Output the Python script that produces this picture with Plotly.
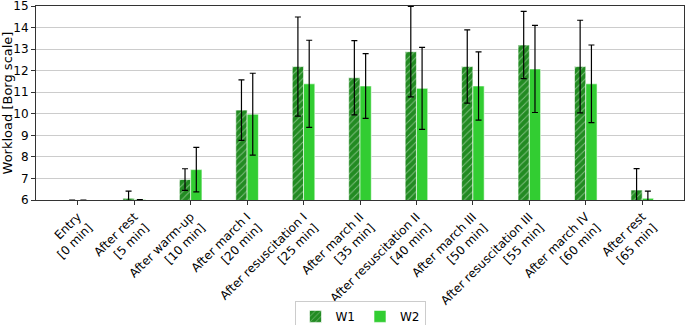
import plotly.graph_objects as go

categories = ["Entry<br>[0 min]", "After rest<br>[5 min]", "After warm-up<br>[10 min]",
              "After march I<br>[20 min]", "After resuscitation I<br>[25 min]",
              "After march II<br>[35 min]", "After resuscitation II<br>[40 min]",
              "After march III<br>[50 min]", "After resuscitation III<br>[55 min]",
              "After march IV<br>[60 min]", "After rest<br>[65 min]"]
w1_mean = [6.0, 6.08, 6.95, 10.17, 12.19, 11.67, 12.88, 12.19, 13.19, 12.19, 6.46]
w1_sd = [0.0, 0.33, 0.5, 1.4, 2.3, 1.72, 2.1, 1.7, 1.56, 2.15, 1.0]
w2_mean = [6.0, 6.02, 7.41, 9.98, 11.39, 11.29, 11.18, 11.29, 12.08, 11.39, 6.08]
w2_sd = [0.0, 0.0, 1.03, 1.9, 2.02, 1.5, 1.9, 1.58, 2.02, 1.8, 0.33]

x = list(range(len(categories)))
bw = 0.2

fig = go.Figure()
fig.add_trace(go.Bar(
    x=[i - bw / 2 for i in x], y=w1_mean, width=bw, name="W1",
    marker=dict(color="#228B22", line=dict(color="white", width=0.6),
                pattern=dict(shape="/", fgcolor="#d8efd8", bgcolor="#228B22", size=5, solidity=0.2)),
    error_y=dict(type="data", array=w1_sd, color="black", thickness=1.2, width=3),
))
fig.add_trace(go.Bar(
    x=[i + bw / 2 for i in x], y=w2_mean, width=bw, name="W2",
    marker=dict(color="#32CD32", line=dict(color="white", width=0.6)),
    error_y=dict(type="data", array=w2_sd, color="black", thickness=1.2, width=3),
))

fig.update_layout(
    width=685, height=325,
    margin=dict(l=36, r=1, t=6, b=125, autoexpand=False),
    paper_bgcolor="white", plot_bgcolor="white",
    font=dict(family="DejaVu Sans", size=12, color="black"),
    barmode="overlay",
    showlegend=True,
    legend=dict(orientation="h", x=0.5, y=-0.52, xanchor="center", yanchor="top",
                bordercolor="#cccccc", borderwidth=1, font=dict(size=12)),
    xaxis=dict(range=[-0.74, 10.74], tickmode="array", tickvals=x, ticktext=categories,
               tickangle=-45, showgrid=False, zeroline=False, automargin=False,
               showline=True, linecolor="#333333", linewidth=1, mirror=True,
               ticks="outside", ticklen=4, tickcolor="#333333", tickfont=dict(size=12)),
    yaxis=dict(range=[6, 15], tickvals=[6, 7, 8, 9, 10, 11, 12, 13, 14, 15],
               showgrid=True, gridcolor="#cccccc", gridwidth=1, automargin=False,
               ticklabeloverflow="allow",
               zeroline=False, showline=True, linecolor="#333333", linewidth=1, mirror=True,
               ticks="outside", ticklen=4, tickcolor="#333333", tickfont=dict(size=12),
               title=dict(text="Workload [Borg scale]", font=dict(size=13), standoff=4)),
)

fig.write_html("out.html")
